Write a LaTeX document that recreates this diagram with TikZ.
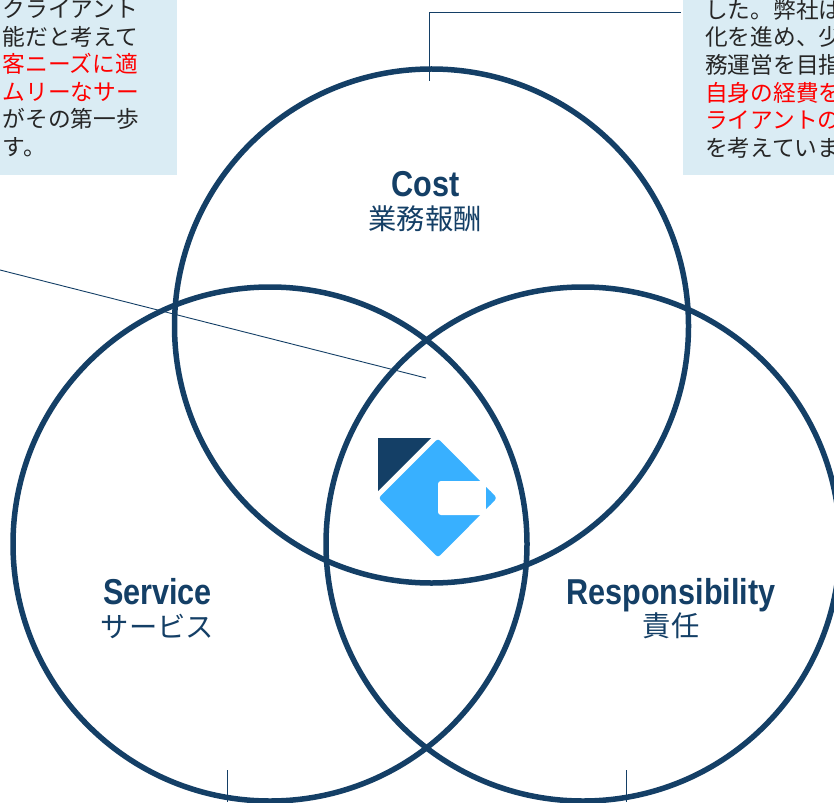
\documentclass[tikz,border=0pt]{standalone}
\usepackage{fontspec}
\usepackage{xcolor}
\setmainfont{Liberation Sans}
\newfontfamily\cjk{Noto Sans CJK JP}
\newfontfamily\narrowbold[FakeStretch=0.85]{Liberation Sans Bold}
\definecolor{navyring}{HTML}{143F66}
\definecolor{paleblue}{HTML}{DAECF4}
\definecolor{skyblue}{HTML}{38B0FF}
\tikzset{
	ring/.style={draw=navyring, line width=5.5pt, fill=none},
	leader/.style={draw=navyring, line width=0.9pt},
	notebox/.style={fill=paleblue, draw=none},
	notetext/.style={anchor=north west, inner sep=0pt, align=left, text=black!85, font=\cjk\fontsize{22.7}{27.6}\selectfont},
	headword/.style={anchor=base, text=navyring, inner sep=0pt, font=\narrowbold\fontsize{36}{36}\selectfont},
	subword/.style={text=navyring, inner sep=0pt, font=\cjk\fontsize{28.3}{28}\selectfont}
}
\begin{document}
\begin{tikzpicture}[x=1pt, y=-1pt]
	\pgfmathsetmacro{\radius}{257}
	\useasboundingbox (0,0) rectangle (834,802);
	\clip (0,0) rectangle (834,802);
	\fill[white] (0,0) rectangle (834,802);
	% note boxes
	\fill[notebox] (0,0) rectangle (177,175);
	\fill[notebox] (683,0) rectangle (834,175);
	\node[notetext] (noteleft) at (2.5,-1) {クライアント\\能だと考えて\\\textcolor{red}{客ニーズに適}\\\textcolor{red}{ムリーなサー}\\がその第一歩\\す。};
	\node[notetext] (noteright) at (705,-1) {した。弊社は\\化を進め、少\\務運営を目指\\\textcolor{red}{自身の経費を}\\\textcolor{red}{ライアントの}\\を考えていま};
	% leader lines
	\coordinate (costtop) at (429.5,81);
	\coordinate (costbend) at (429.5,12.5);
	\coordinate (costend) at (681,12.5);
	\coordinate (midstart) at (0,270);
	\coordinate (midend) at (426,378);
	\coordinate (servicetop) at (227,770);
	\coordinate (serviceend) at (227,802);
	\coordinate (resptop) at (626,770);
	\coordinate (respend) at (626,802);
	\draw[leader] (costtop) -- (costbend) -- (costend);
	\draw[leader] (midstart) -- (midend);
	\draw[leader] (servicetop) -- (serviceend);
	\draw[leader] (resptop) -- (respend);
	% rings
	\draw[ring] (431.5,326) circle (\radius);
	\draw[ring] (270,544) circle (\radius);
	\draw[ring] (583,544) circle (\radius);
	% logo
	\fill[navyring] (378,438) -- (431,438) -- (378,491) -- cycle;
	\fill[skyblue, rounded corners=3pt] (438,438.5) -- (497,498) -- (438,557.5) -- (378.5,498) -- cycle;
	\fill[white, rounded corners=3pt] (438,481) rectangle (490,515);
	\fill[skyblue] (486,487) -- (491,492) -- (491,504) -- (486,509) -- cycle;
	% labels
	\node[headword] (cost) at (425.5,197) {Cost};
	\node[subword] (costsub) at (425,219) {業務報酬};
	\node[headword] (service) at (157.5,604) {Service};
	\node[subword] (servicesub) at (157.5,626) {サービス};
	\node[headword] (resp) at (671,604) {Responsibility};
	\node[subword] (respsub) at (671,626) {責任};
\end{tikzpicture}
\end{document}
